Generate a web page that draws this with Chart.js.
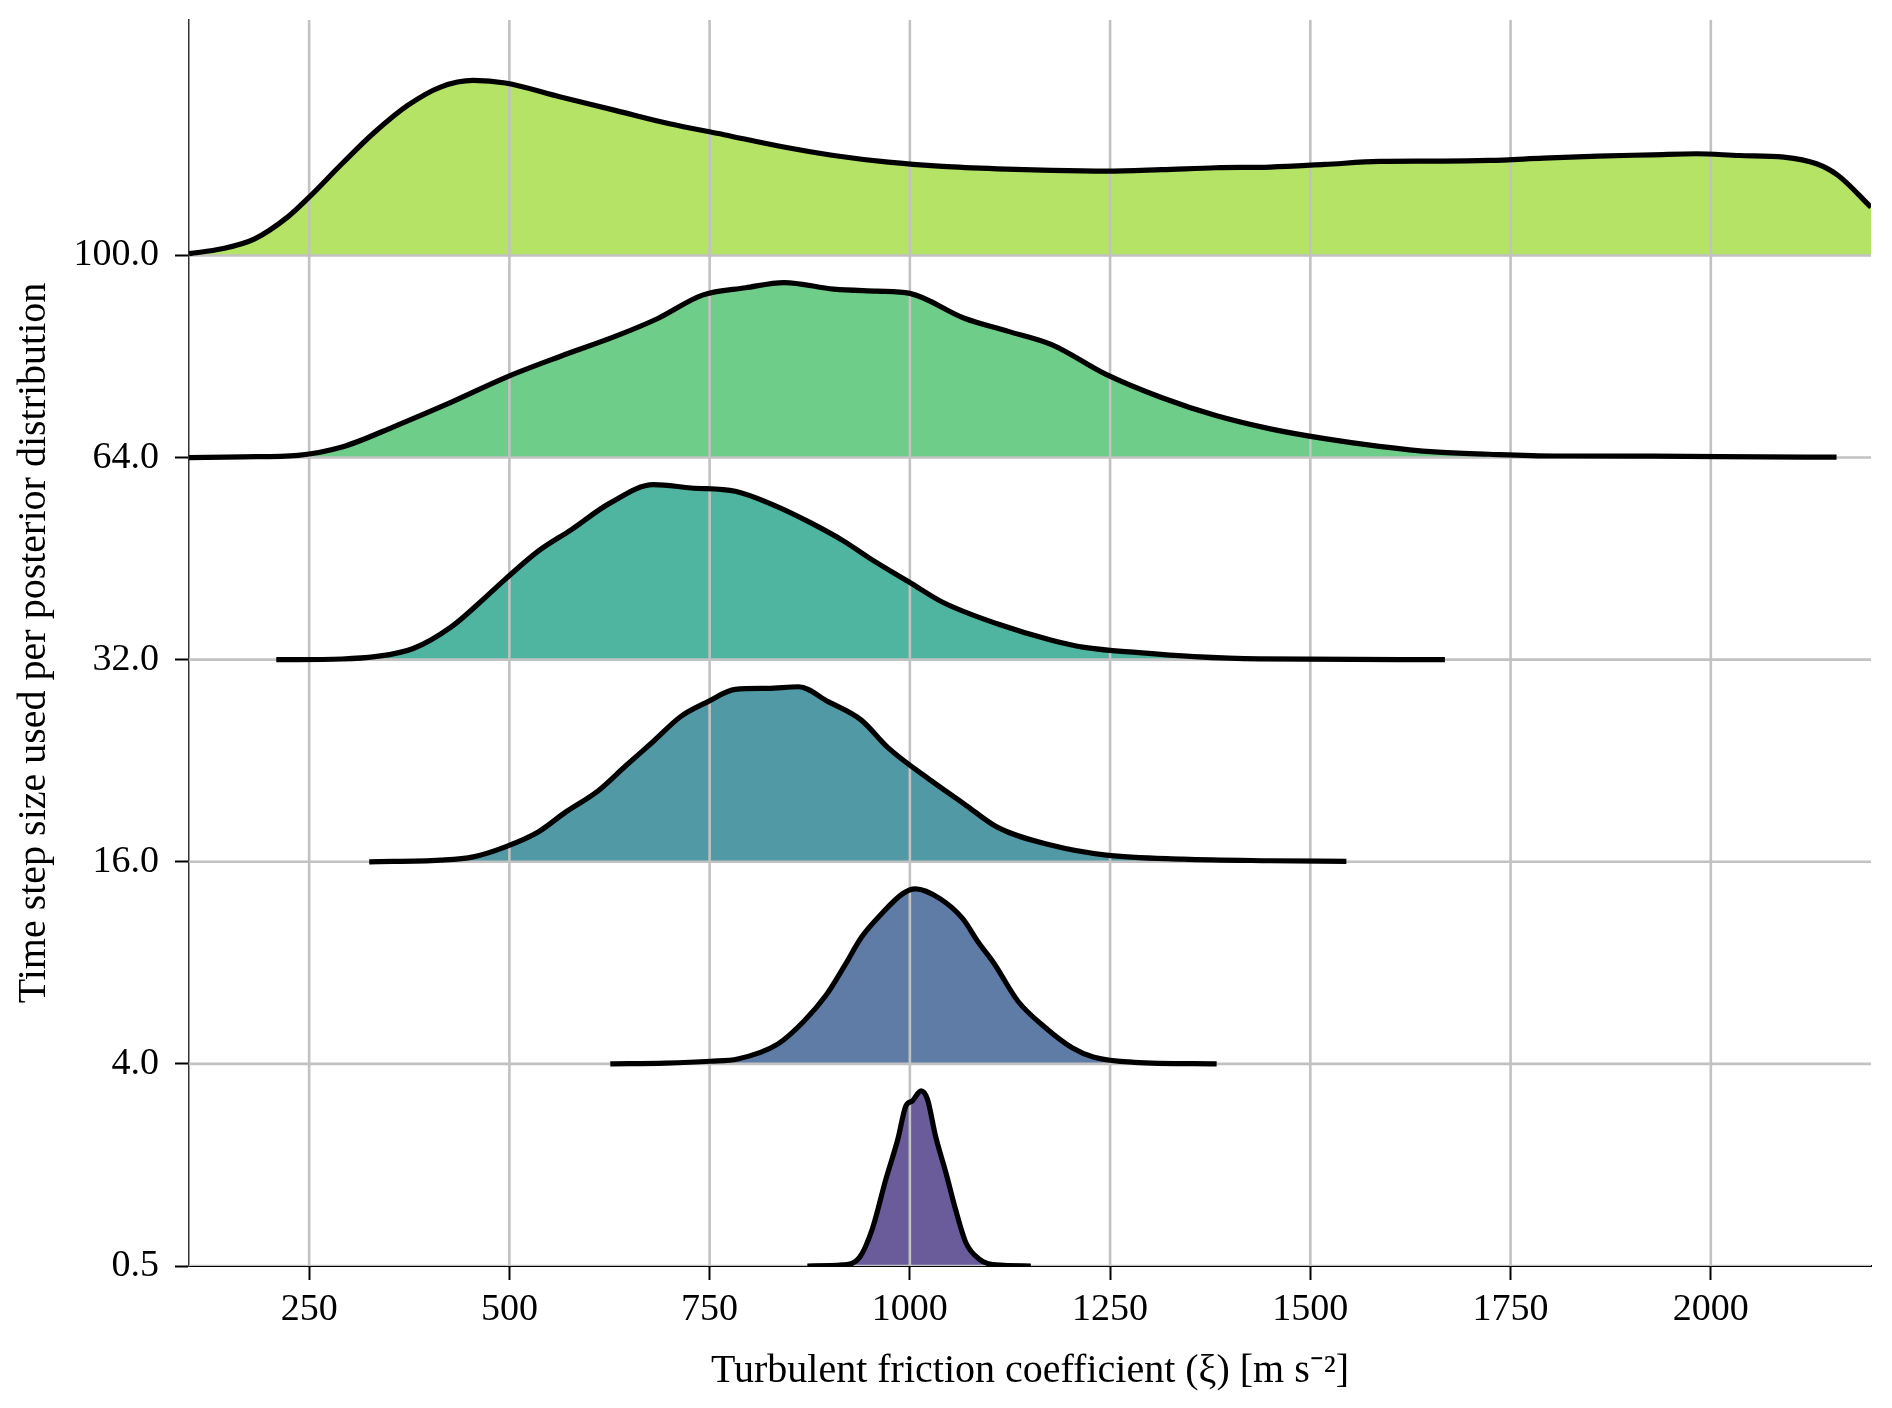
<!DOCTYPE html>
<html>
<head>
<meta charset="utf-8">
<script src="https://cdn.jsdelivr.net/npm/chart.js@4.4.1/dist/chart.umd.min.js"></script>
<style>
html,body{margin:0;padding:0;background:#ffffff;}
#wrap{width:1892px;height:1408px;position:relative;}
</style>
</head>
<body>
<div id="wrap"><canvas id="c"></canvas></div>
<script>
// ---- Data ----
const stepSizeLabels = ['0.5', '4.0', '16.0', '32.0', '64.0', '100.0'];
const xTickValues = [250, 500, 750, 1000, 1250, 1500, 1750, 2000];

// friction coefficient values (x) and relative density (peak = 1) for each time step size
const xi_0_5 = [872, 916, 937, 953, 970, 985, 995, 1003, 1014, 1022, 1032, 1045, 1057, 1070, 1087, 1107, 1151];
const dens_0_5 = [0, 0.006, 0.048, 0.21, 0.495, 0.724, 0.914, 0.943, 1.0, 0.952, 0.743, 0.533, 0.324, 0.133, 0.038, 0.006, 0];

const xi_4 = [626, 695, 751, 785, 835, 868, 896, 918, 940, 963, 991, 1007, 1038, 1066, 1085, 1105, 1135, 1169, 1202, 1230, 1280, 1383];
const dens_4 = [0, 0.004, 0.015, 0.028, 0.113, 0.245, 0.396, 0.557, 0.726, 0.849, 0.972, 1.0, 0.943, 0.83, 0.698, 0.575, 0.358, 0.208, 0.094, 0.038, 0.009, 0];

const xi_16 = [325, 414, 455, 495, 536, 570, 611, 645, 680, 714, 748, 782, 823, 861, 898, 939, 973, 1027, 1068, 1109, 1177, 1245, 1341, 1450, 1545];
const dens_16 = [0, 0.009, 0.028, 0.085, 0.17, 0.283, 0.406, 0.547, 0.689, 0.83, 0.915, 0.985, 0.991, 1.0, 0.915, 0.811, 0.651, 0.462, 0.33, 0.198, 0.094, 0.038, 0.015, 0.006, 0.002];

const xi_32 = [209, 291, 332, 380, 427, 461, 495, 536, 577, 625, 680, 727, 782, 830, 877, 918, 952, 1000, 1041, 1109, 1177, 1218, 1286, 1355, 1436, 1668];
const dens_32 = [0, 0.004, 0.017, 0.064, 0.186, 0.318, 0.46, 0.62, 0.742, 0.893, 1.0, 0.981, 0.962, 0.883, 0.78, 0.676, 0.573, 0.441, 0.328, 0.205, 0.111, 0.07, 0.04, 0.017, 0.004, 0];

const xi_64 = [100, 168, 236, 291, 359, 427, 495, 564, 632, 686, 741, 795, 843, 905, 959, 1000, 1068, 1123, 1177, 1245, 1314, 1382, 1450, 1518, 1586, 1655, 1723, 1805, 1927, 2064, 2157];
const dens_64 = [0, 0.004, 0.013, 0.06, 0.183, 0.315, 0.457, 0.579, 0.692, 0.796, 0.928, 0.97, 1.0, 0.962, 0.951, 0.938, 0.796, 0.721, 0.645, 0.475, 0.343, 0.24, 0.164, 0.108, 0.064, 0.032, 0.019, 0.009, 0.008, 0.004, 0.002];

const xi_100 = [100, 141, 182, 223, 250, 291, 332, 373, 414, 455, 495, 564, 632, 700, 768, 836, 905, 973, 1041, 1109, 1177, 1245, 1314, 1382, 1450, 1518, 1586, 1655, 1723, 1791, 1859, 1927, 1982, 2036, 2091, 2132, 2159, 2200];
const dens_100 = [0.01, 0.038, 0.095, 0.219, 0.333, 0.524, 0.705, 0.857, 0.962, 1.0, 0.985, 0.905, 0.829, 0.752, 0.69, 0.625, 0.571, 0.533, 0.509, 0.495, 0.486, 0.482, 0.49, 0.501, 0.505, 0.52, 0.537, 0.539, 0.543, 0.556, 0.568, 0.575, 0.581, 0.571, 0.562, 0.524, 0.457, 0.276];

const fillColors = ['#6a5b9a', '#5e7ca5', '#5299a6', '#4fb4a0', '#6fcd8a', '#b5e366'];

// ---- Styling ----
const RIDGE_HEIGHT = 0.866;
const FONT = 'Liberation Serif';
const ridges = [
  [xi_0_5, dens_0_5],
  [xi_4, dens_4],
  [xi_16, dens_16],
  [xi_32, dens_32],
  [xi_64, dens_64],
  [xi_100, dens_100]
];

const datasets = ridges.map(([xs, ds], i) => ({
  label: stepSizeLabels[i],
  data: xs.map((x, k) => ({x: x, y: i + ds[k] * RIDGE_HEIGHT})),
  borderColor: '#000000',
  borderWidth: 5.2,
  backgroundColor: fillColors[i],
  fill: {value: i},
  pointRadius: 0,
  cubicInterpolationMode: 'monotone',
  borderJoinStyle: 'round',
  borderCapStyle: 'butt',
  clip: 0
}));

// grid drawn above the fills but below the outlines (as in the reference)
const gridOverFill = {
  id: 'gridOverFill',
  beforeDatasetsDraw(chart) {
    const {ctx, chartArea: a, scales} = chart;
    ctx.save();
    ctx.beginPath();
    ctx.rect(a.left, a.top, a.right - a.left, a.bottom - a.top);
    ctx.clip();
    ctx.strokeStyle = '#c2c2c2';
    ctx.lineWidth = 2.6;
    scales.x.ticks.forEach(t => {
      const px = scales.x.getPixelForValue(t.value);
      ctx.beginPath(); ctx.moveTo(px, a.top); ctx.lineTo(px, a.bottom); ctx.stroke();
    });
    scales.y.ticks.forEach(t => {
      const py = scales.y.getPixelForValue(t.value);
      ctx.beginPath(); ctx.moveTo(a.left, py); ctx.lineTo(a.right, py); ctx.stroke();
    });
    ctx.restore();
  }
};

new Chart(document.getElementById('c'), {
  type: 'line',
  data: {datasets: datasets},
  plugins: [gridOverFill],
  options: {
    responsive: true,
    maintainAspectRatio: false,
    devicePixelRatio: 1,
    animation: false,
    events: [],
    layout: {padding: {top: 20, right: 21, left: 0, bottom: 0}},
    plugins: {
      legend: {display: false},
      tooltip: {enabled: false},
      filler: {drawTime: 'beforeDatasetsDraw'}
    },
    scales: {
      x: {
        type: 'linear',
        min: 100,
        max: 2200,
        afterBuildTicks: s => { s.ticks = xTickValues.map(v => ({value: v})); },
        afterFit: s => { s.height = 142; s.paddingLeft = 0; s.paddingRight = 0; },
        ticks: {
          font: {family: FONT, size: 38},
          color: '#000000',
          padding: 7,
          maxRotation: 0,
          autoSkip: false,
          callback: v => String(v)
        },
        grid: {display: true, drawOnChartArea: false, drawTicks: true, tickLength: 14, tickWidth: 2, tickColor: '#000000'},
        border: {display: true, color: '#000000', width: 2},
        title: {
          display: true,
          text: 'Turbulent friction coefficient (ξ) [m s⁻²]',
          font: {family: FONT, size: 40},
          color: '#000000',
          padding: {top: 0, bottom: 13}
        }
      },
      y: {
        type: 'linear',
        min: 0,
        max: 6.165,
        afterBuildTicks: s => { s.ticks = stepSizeLabels.map((l, i) => ({value: i})); },
        afterFit: s => { s.width = 189; s.paddingTop = 0; s.paddingBottom = 0; },
        ticks: {
          font: {family: FONT, size: 38},
          color: '#000000',
          padding: 16,
          autoSkip: false,
          callback: (v, idx) => stepSizeLabels[idx]
        },
        grid: {display: true, drawOnChartArea: false, drawTicks: true, tickLength: 14, tickWidth: 2, tickColor: '#000000'},
        border: {display: true, color: '#333333', width: 1.5},
        title: {
          display: true,
          text: 'Time step size used per posterior distribution',
          font: {family: FONT, size: 40},
          color: '#000000',
          padding: {top: 10, bottom: 0}
        }
      }
    }
  }
});
</script>
</body>
</html>
